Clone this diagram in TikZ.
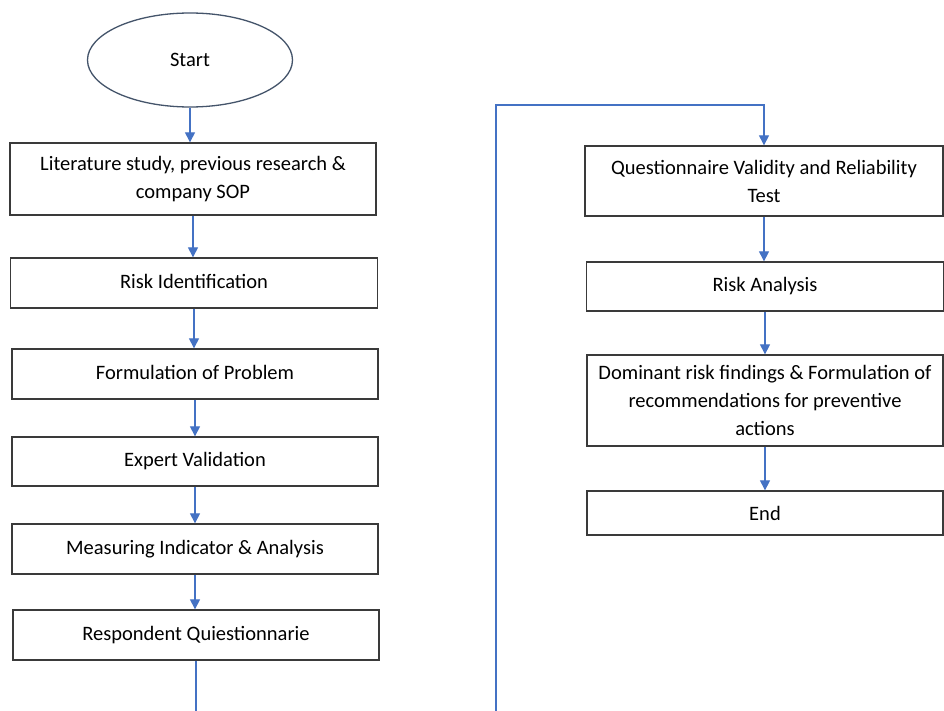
\documentclass[tikz,border=0pt]{standalone}
\usepackage{fontspec}
\setmainfont{Carlito}
\usetikzlibrary{shapes.geometric,arrows.meta}
\definecolor{flowblue}{HTML}{4472C4}
\definecolor{boxgray}{HTML}{3A3A3A}
\definecolor{ellcol}{HTML}{44546A}
\begin{document}
\begin{tikzpicture}[x=1pt,y=-1pt,
  stepbox/.style={draw=boxgray,line width=1.3pt,rectangle,inner sep=2pt,align=center,
    font=\fontsize{20.5}{28}\selectfont},
  flow/.style={draw=flowblue,line width=1.1pt},
  flowarrow/.style={flow,-{Triangle[width=10pt,length=10pt]}}]
\useasboundingbox (0,0) rectangle (944,711);
\fill[white] (0,0) rectangle (944,711);
\node[draw=ellcol,line width=1.3pt,ellipse,minimum width=205pt,minimum height=94pt,inner sep=0pt,
  font=\fontsize{20.5}{28}\selectfont] (start) at (190,60) {Start};
\node[stepbox,minimum width=366pt,minimum height=72pt] (lit) at (193,179)
  {Literature study, previous research \&\\company SOP};
\node[stepbox,minimum width=367pt,minimum height=50pt] (risk) at (194,283) {\raisebox{3pt}{Risk Identification}};
\node[stepbox,minimum width=366pt,minimum height=50pt] (form) at (195,374) {\raisebox{4pt}{Formulation of Problem}};
\node[stepbox,minimum width=366pt,minimum height=49pt] (expert) at (195,461.5) {\raisebox{2pt}{Expert Validation}};
\node[stepbox,minimum width=366pt,minimum height=50pt] (meas) at (195,549) {\raisebox{3pt}{Measuring Indicator \& Analysis}};
\node[stepbox,minimum width=366pt,minimum height=50pt] (resp) at (196,635) {\raisebox{2pt}{Respondent Quiestionnarie}};
\node[stepbox,minimum width=358pt,minimum height=70pt] (qv) at (764,181)
  {Questionnaire Validity and Reliability\\Test};
\node[stepbox,minimum width=357pt,minimum height=49pt] (ra) at (765,286.5) {\raisebox{2pt}{Risk Analysis}};
\node[stepbox,minimum width=356pt,minimum height=91pt] (dom) at (765,400.5)
  {\raisebox{-4pt}{Dominant risk findings \& Formulation of}\\\raisebox{-4pt}{recommendations for preventive}\\\raisebox{-4pt}{actions}};
\node[stepbox,minimum width=356pt,minimum height=44pt] (fin) at (765,513) {End};
\coordinate (c1) at (196,711);
\coordinate (c2) at (496,711);
\coordinate (c3) at (496,105);
\draw[flowarrow] (start.south) -- (start.south |- lit.north);
\draw[flowarrow] (lit.south) -- (lit.south |- risk.north);
\draw[flowarrow] (risk.south) -- (risk.south |- form.north);
\draw[flowarrow] (form.south) -- (form.south |- expert.north);
\draw[flowarrow] (expert.south) -- (expert.south |- meas.north);
\draw[flowarrow] (meas.south) -- (meas.south |- resp.north);
\draw[flow] (resp.south) -- (c1);
\draw[flowarrow] (c2) -- (c3) -| (qv.north);
\draw[flowarrow] (qv.south) -- (qv.south |- ra.north);
\draw[flowarrow] (ra.south) -- (ra.south |- dom.north);
\draw[flowarrow] (dom.south) -- (dom.south |- fin.north);
\end{tikzpicture}
\end{document}
